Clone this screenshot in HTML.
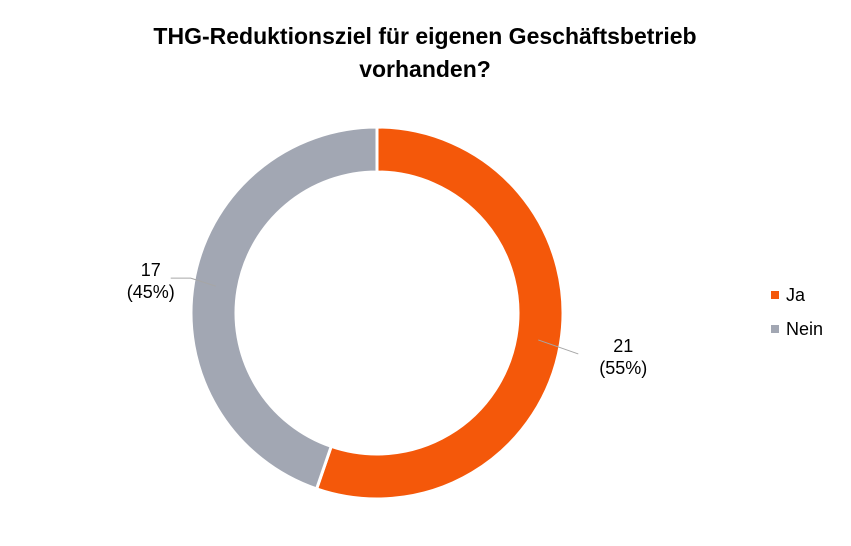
<!DOCTYPE html>
<html><head><meta charset="utf-8"><style>
body{margin:0;background:#fff;font-family:"Liberation Sans",Arial,sans-serif;}
</style></head><body>
<svg width="851" height="541" viewBox="0 0 851 541">
<text x="425" y="44" text-anchor="middle" font-size="23" font-weight="bold" fill="#000">THG-Reduktionsziel für eigenen Geschäftsbetrieb</text>
<text x="425" y="77" text-anchor="middle" font-size="23" font-weight="bold" fill="#000">vorhanden?</text>
<g id="slices"></g>
<g id="labels"></g>
<g>
<rect x="771" y="291" width="8" height="8" fill="#F4580A"/>
<text x="786" y="301" font-size="18" fill="#000">Ja</text>
<rect x="771" y="325" width="8" height="8" fill="#A2A7B3"/>
<text x="786" y="335" font-size="18" fill="#000">Nein</text>
</g>
</svg>
<script>
const categories=["Ja","Nein"];
const values=[21,17];
const colors=["#F4580A","#A2A7B3"];
const cx=377,cy=313,R=186,r=141;
const total=values.reduce((a,b)=>a+b,0);
const ns="http://www.w3.org/2000/svg";
const g=document.getElementById("slices"),lg=document.getElementById("labels");
function pt(a,rad){return [cx+rad*Math.sin(a),cy-rad*Math.cos(a)];}
let a0=0;
values.forEach((v,i)=>{
  const a1=a0+v/total*2*Math.PI;
  const large=(a1-a0)>Math.PI?1:0;
  const p1=pt(a0,R),p2=pt(a1,R),p3=pt(a1,r),p4=pt(a0,r);
  const p=document.createElementNS(ns,"path");
  p.setAttribute("d",`M${p1[0]},${p1[1]} A${R},${R} 0 ${large} 1 ${p2[0]},${p2[1]} L${p3[0]},${p3[1]} A${r},${r} 0 ${large} 0 ${p4[0]},${p4[1]} Z`);
  p.setAttribute("fill",colors[i]);p.setAttribute("stroke","#fff");p.setAttribute("stroke-width","3");
  
  
  g.appendChild(p);
  const mid=(a0+a1)/2;
  const s=pt(mid,(R+r)/2);
  const right=Math.sin(mid)>0;
  const e=[s[0]+(right?40:-25),s[1]+(right?14:-8)];
  const e2=[e[0]+(right?0:-20),e[1]];
  const l=document.createElementNS(ns,"polyline");
  l.setAttribute("points",`${s[0]},${s[1]} ${e[0]},${e[1]} ${e2[0]},${e2[1]}`);
  l.setAttribute("fill","none");l.setAttribute("stroke","#A6A6A6");l.setAttribute("stroke-width","1");
  
  
  lg.appendChild(l);
  const tx=right?e[0]+45:e2[0]-20;
  const pct=Math.round(v/total*100);
  [String(v),"("+pct+"%)"].forEach((t,k)=>{
    const te=document.createElementNS(ns,"text");
    te.setAttribute("x",tx);te.setAttribute("y",e[1]-2+k*22);
    te.setAttribute("text-anchor","middle");te.setAttribute("font-size","18");
    te.textContent=t;
    
    
    lg.appendChild(te);
  });
  a0=a1;
});
</script>
</body></html>
